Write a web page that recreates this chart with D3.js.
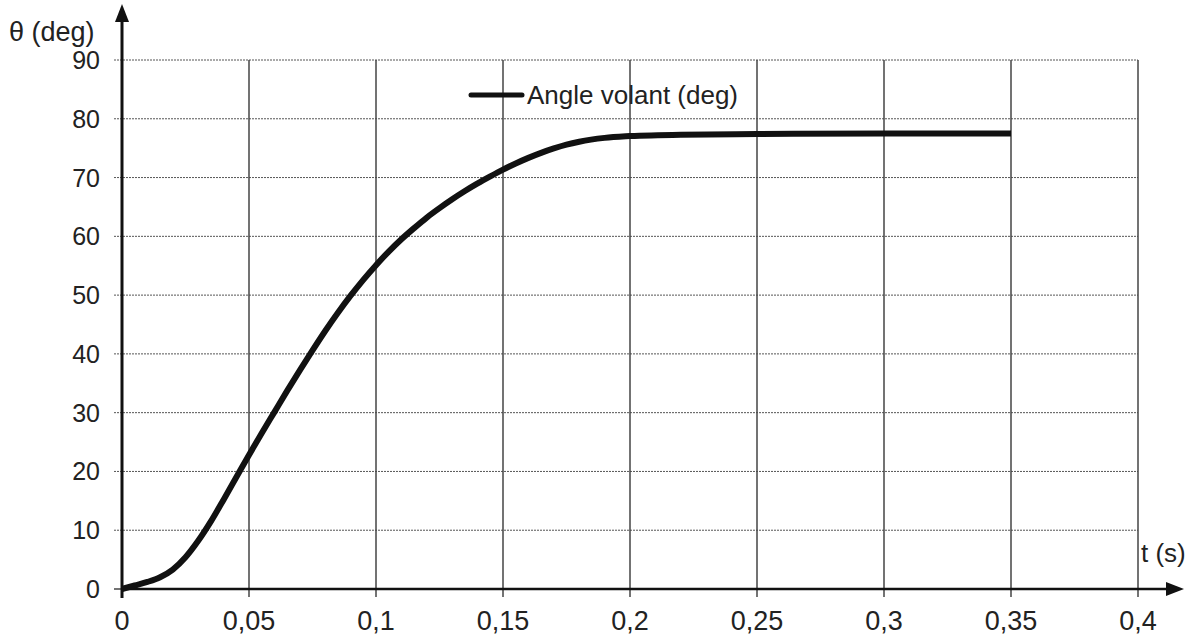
<!DOCTYPE html>
<html><head><meta charset="utf-8">
<script src="https://cdn.jsdelivr.net/npm/d3@7"></script>
<style>body{margin:0;background:#fff}svg{display:block}text{font-family:"Liberation Sans",Arial,sans-serif;fill:#222}</style>
</head><body><svg id="c" width="1198" height="639"></svg>
<script>
const timeS = [0,0.005,0.01,0.015,0.02,0.025,0.03,0.035,0.04,0.045,0.05,0.055,0.06,0.065,0.07,0.075,0.08,0.085,0.09,0.095,0.1,0.105,0.11,0.115,0.12,0.125,0.13,0.135,0.14,0.145,0.15,0.155,0.16,0.165,0.17,0.175,0.18,0.19,0.2,0.22,0.25,0.3,0.35];
const angleDeg = [0,0.6,1.2,2.0,3.3,5.4,8.2,11.5,15.2,19.0,22.8,26.5,30.1,33.7,37.2,40.6,43.9,47.0,49.9,52.6,55.1,57.4,59.5,61.4,63.2,64.8,66.3,67.7,69.0,70.2,71.35,72.4,73.35,74.2,74.95,75.6,76.1,76.75,77.05,77.3,77.4,77.5,77.5];
const xTicks = [0,0.05,0.1,0.15,0.2,0.25,0.3,0.35,0.4];
const yTicks = [0,10,20,30,40,50,60,70,80,90];
const seriesName = "Angle volant (deg)";
const yLabel = "θ (deg)", xLabel = "t (s)";

const svg = d3.select("#c");
const x = d3.scaleLinear().domain([0,0.4]).range([122,1138]);
const y = d3.scaleLinear().domain([0,90]).range([589,60]);
const fmt = d => d===0 ? "0" : String(d).replace(".", ",");

// horizontal dotted grid
svg.append("g").selectAll("line").data(yTicks.filter(d=>d>0)).join("line")
  .attr("x1", 114).attr("x2", x(0.4)).attr("y1", d=>y(d)).attr("y2", d=>y(d))
  .attr("stroke","#555").attr("stroke-width",1).attr("stroke-dasharray","2,1");
svg.append("line").attr("x1",114).attr("x2",122).attr("y1",y(0)).attr("y2",y(0)).attr("stroke","#444").attr("stroke-width",1.5);
// vertical grid
svg.append("g").selectAll("line").data(xTicks.filter(d=>d>0)).join("line")
  .attr("x1", d=>x(d)).attr("x2", d=>x(d)).attr("y1", y(90)).attr("y2", y(0)+8)
  .attr("stroke","#444").attr("stroke-width",1.5);

// axes
svg.append("line").attr("x1",x(0)).attr("x2",x(0)).attr("y1",20).attr("y2",y(0)+9).attr("stroke","#111").attr("stroke-width",3);
svg.append("path").attr("d",`M${x(0)-7},22 L${x(0)},4 L${x(0)+7},22 Z`).attr("fill","#111");
svg.append("line").attr("x1",x(0)).attr("x2",1168).attr("y1",y(0)).attr("y2",y(0)).attr("stroke","#111").attr("stroke-width",2.5);
svg.append("path").attr("d",`M1166,${y(0)-7} L1184,${y(0)} L1166,${y(0)+7} Z`).attr("fill","#111");

// tick labels
svg.append("g").selectAll("text").data(yTicks).join("text")
  .attr("x",100).attr("y",d=>y(d)+9).attr("text-anchor","end").attr("font-size",25).text(d=>d);
svg.append("g").selectAll("text").data(xTicks).join("text")
  .attr("x",d=>x(d)).attr("y",630).attr("text-anchor","middle").attr("font-size",27).text(fmt);

svg.append("text").attr("x",9).attr("y",41).attr("font-size",27).text(yLabel);
svg.append("text").attr("x",1141).attr("y",562).attr("font-size",26).text(xLabel);

// curve
const line = d3.line().x((d,i)=>x(timeS[i])).y(d=>y(d)).curve(d3.curveMonotoneX);
svg.append("path").datum(angleDeg).attr("d",line).attr("fill","none")
  .attr("stroke","#111").attr("stroke-width",6).attr("stroke-linejoin","round");

// legend
svg.append("line").attr("x1",471).attr("x2",522).attr("y1",95).attr("y2",95).attr("stroke","#111").attr("stroke-width",5).attr("stroke-linecap","round");
svg.append("text").attr("x",527).attr("y",104).attr("font-size",26).text(seriesName);
</script></body></html>
